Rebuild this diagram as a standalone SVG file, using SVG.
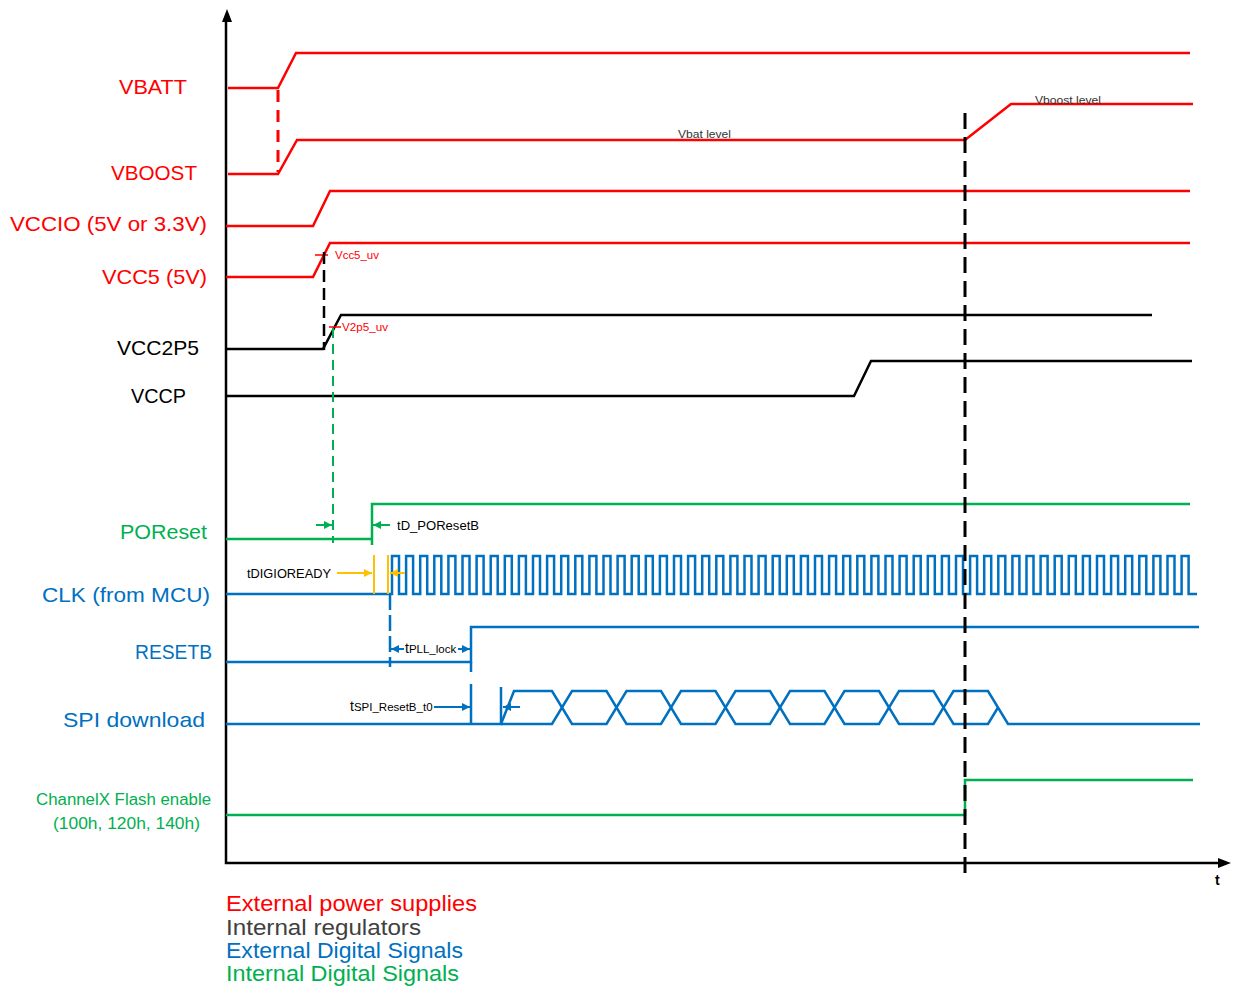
<svg xmlns="http://www.w3.org/2000/svg" width="1235" height="986" viewBox="0 0 1235 986">
<style>
.sig{fill:none;stroke-width:2.5;stroke-linejoin:miter}
.red{stroke:#ff0000}.blk{stroke:#000}.blu{stroke:#0070c0}.grn{stroke:#00b050}.yel{stroke:#ffc000}
.lbl{font-family:"Liberation Sans",Arial,sans-serif;font-size:21px}
.sm{font-family:"Liberation Sans",Arial,sans-serif;font-size:11px}
.tr{fill:#ff0000}.tk{fill:#000}.tb{fill:#0070c0}.tg{fill:#00b050}
</style>
<defs>
<marker id="aG" viewBox="0 0 10 10" refX="10" refY="5" markerWidth="9" markerHeight="8" markerUnits="userSpaceOnUse" orient="auto-start-reverse"><path d="M0,0L10,5L0,10z" fill="#00b050"/></marker>
<marker id="aY" viewBox="0 0 10 10" refX="10" refY="5" markerWidth="9" markerHeight="8" markerUnits="userSpaceOnUse" orient="auto-start-reverse"><path d="M0,0L10,5L0,10z" fill="#ffc000"/></marker>
<marker id="aB" viewBox="0 0 10 10" refX="10" refY="5" markerWidth="9" markerHeight="8" markerUnits="userSpaceOnUse" orient="auto-start-reverse"><path d="M0,0L10,5L0,10z" fill="#0070c0"/></marker>
</defs>
<rect width="1235" height="986" fill="#fff"/>

<g id="axes">
<path d="M226,20V863H1222" fill="none" stroke="#000" stroke-width="2.5"/>
<polygon points="227,9 222,22 232,22" fill="#000"/>
<polygon points="1231,863 1218,858 1218,868" fill="#000"/>
<text x="1215" y="885" font-family="Liberation Sans,Arial,sans-serif" font-size="14" font-weight="bold">t</text>
</g>

<g id="labels" class="lbl">
<text x="119" y="94" class="tr" textLength="68" lengthAdjust="spacingAndGlyphs">VBATT</text>
<text x="111" y="180" class="tr" textLength="86" lengthAdjust="spacingAndGlyphs">VBOOST</text>
<text x="10" y="231" class="tr" textLength="197" lengthAdjust="spacingAndGlyphs">VCCIO (5V or 3.3V)</text>
<text x="102" y="284" class="tr" textLength="105" lengthAdjust="spacingAndGlyphs">VCC5 (5V)</text>
<text x="117" y="355" class="tk" textLength="82" lengthAdjust="spacingAndGlyphs">VCC2P5</text>
<text x="131" y="403" class="tk" textLength="55" lengthAdjust="spacingAndGlyphs">VCCP</text>
<text x="120" y="539" class="tg" textLength="87" lengthAdjust="spacingAndGlyphs">POReset</text>
<text x="42" y="602" class="tb" textLength="168" lengthAdjust="spacingAndGlyphs">CLK (from MCU)</text>
<text x="135" y="659" class="tb" textLength="77" lengthAdjust="spacingAndGlyphs">RESETB</text>
<text x="63" y="727" class="tb" textLength="142" lengthAdjust="spacingAndGlyphs">SPI download</text>
<text x="36" y="805" class="tg" font-size="16" textLength="175" lengthAdjust="spacingAndGlyphs">ChannelX Flash enable</text>
<text x="53" y="829" class="tg" font-size="16" textLength="147" lengthAdjust="spacingAndGlyphs">(100h, 120h, 140h)</text>
</g>

<g id="vbatt"><path class="sig red" d="M228,88H278L296,53H1190"/></g>
<g id="vboost">
<path class="sig red" d="M228,174H278L297,140H965L1011,104H1193"/>
<text x="678" y="138" class="sm" fill="#333" textLength="53" lengthAdjust="spacingAndGlyphs">Vbat level</text>
<text x="1035" y="104" class="sm" fill="#333" textLength="66" lengthAdjust="spacingAndGlyphs">Vboost level</text>
</g>
<g id="vccio"><path class="sig red" d="M226,226H313L330,191H1190"/></g>
<g id="vcc5">
<path class="sig red" d="M226,277H313L330,243H1190"/>
<path d="M315,255H328" stroke="#ff0000" stroke-width="1.5"/>
<text x="335" y="259" class="sm tr" textLength="44" lengthAdjust="spacingAndGlyphs">Vcc5_uv</text>
</g>
<g id="vcc2p5">
<path class="sig blk" d="M226,349H323L341,315H1152"/>
<path d="M329,327H341" stroke="#ff0000" stroke-width="1.5"/>
<text x="342" y="331" class="sm tr" textLength="46" lengthAdjust="spacingAndGlyphs">V2p5_uv</text>
</g>
<g id="vccp"><path class="sig blk" d="M226,396H854L871,361H1192"/></g>
<g id="poreset"><path class="sig grn" d="M226,539H372V504H1190M372,539V545"/></g>
<g id="clk">
<path class="sig blu" d="M226,594H392v-38h7v38h7.1v-38h7v38h7.1v-38h7v38h7.1v-38h7v38h7.1v-38h7v38h7.1v-38h7v38h7.1v-38h7v38h7.1v-38h7v38h7.1v-38h7v38h7.1v-38h7v38h7.1v-38h7v38h7.1v-38h7v38h7.1v-38h7v38h7.1v-38h7v38h7.1v-38h7v38h7.1v-38h7v38h7.1v-38h7v38h7.1v-38h7v38h7.1v-38h7v38h7.1v-38h7v38h7.1v-38h7v38h7.1v-38h7v38h7.1v-38h7v38h7.1v-38h7v38h7.1v-38h7v38h7.1v-38h7v38h7.1v-38h7v38h7.1v-38h7v38h7.1v-38h7v38h7.1v-38h7v38h7.1v-38h7v38h7.1v-38h7v38h7.1v-38h7v38h7.1v-38h7v38h7.1v-38h7v38h7.1v-38h7v38h7.1v-38h7v38h7.1v-38h7v38h7.1v-38h7v38h7.1v-38h7v38h7.1v-38h7v38h7.1v-38h7v38h7.1v-38h7v38h7.1v-38h7v38h7.1v-38h7v38h7.1v-38h7v38h7.1v-38h7v38h7.1v-38h7v38h7.1v-38h7v38h7.1v-38h7v38h7.1v-38h7v38h7.1v-38h7v38h7.1v-38h7v38h7.1v-38h7v38h7.1v-38h7v38h7.1v-38h7v38h7.1v-38h7v38H1197"/>
</g>
<g id="resetb"><path class="sig blu" d="M226,662H471V627H1199"/></g>
<g id="spi">
<path class="sig blu" d="M226,724H501V687"/>
<path class="sig blu" d="M501,724L514,691H552L572,724H606.5L626.5,691H661L681,724H715.5L735.5,691H770L790,724H824.5L844.5,691H879L899,724H933.5L953.5,691H988L1008,724H1200"/>
<path class="sig blu" d="M501,724H552L572,691H606.5L626.5,724H661L681,691H715.5L735.5,724H770L790,691H824.5L844.5,724H879L899,691H933.5L953.5,724H988L998,707.5"/>
</g>
<g id="flash"><path class="sig grn" d="M226,815H965V780H1193"/></g>

<g id="connectors">
<path d="M278,90V172" stroke="#ff0000" stroke-width="3" stroke-dasharray="12 8"/>
<path d="M324,252V350" stroke="#000" stroke-width="2.5" stroke-dasharray="12 6"/>
<path d="M333,328V543" stroke="#00b050" stroke-width="2" stroke-dasharray="10 6"/>
<path d="M965,113V880" stroke="#000" stroke-width="3" stroke-dasharray="16 8"/>
<path d="M390,594V667" stroke="#0070c0" stroke-width="2.5" stroke-dasharray="16 5"/>
<path d="M471,662V672M471,684V724" stroke="#0070c0" stroke-width="2.5"/>
<path d="M374,555V594M388,555V594" stroke="#ffc000" stroke-width="2"/>
<path d="M316,525H332" stroke="#00b050" stroke-width="2" marker-end="url(#aG)"/>
<path d="M390,525H373" stroke="#00b050" stroke-width="2" marker-end="url(#aG)"/>
<path d="M337,573H372" stroke="#ffc000" stroke-width="2" marker-end="url(#aY)"/>
<path d="M405,573H390" stroke="#ffc000" stroke-width="2" marker-end="url(#aY)"/>
<path d="M404,649H391" stroke="#0070c0" stroke-width="2" marker-end="url(#aB)"/>
<path d="M458,649H470" stroke="#0070c0" stroke-width="2" marker-end="url(#aB)"/>
<path d="M434,707H470" stroke="#0070c0" stroke-width="2" marker-end="url(#aB)"/>
<path d="M520,707H503" stroke="#0070c0" stroke-width="2" marker-end="url(#aB)"/>
</g>

<g id="timing-labels" font-family="Liberation Sans,Arial,sans-serif" fill="#000">
<text x="397" y="530" font-size="13" textLength="82" lengthAdjust="spacingAndGlyphs">tD_POResetB</text>
<text x="247" y="578" font-size="13" textLength="84" lengthAdjust="spacingAndGlyphs">tDIGIOREADY</text>
<text x="405" y="653" font-size="14">t<tspan font-size="11.5">PLL_lock</tspan></text>
<text x="350" y="711" font-size="14">t<tspan font-size="11.5">SPI_ResetB_t0</tspan></text>
</g>

<g id="legend" font-family="Liberation Sans,Arial,sans-serif" font-size="22">
<text x="226" y="911" fill="#ff0000" textLength="251" lengthAdjust="spacingAndGlyphs">External power supplies</text>
<text x="226" y="935" fill="#404040" textLength="195" lengthAdjust="spacingAndGlyphs">Internal regulators</text>
<text x="226" y="958" fill="#0070c0" textLength="237" lengthAdjust="spacingAndGlyphs">External Digital Signals</text>
<text x="226" y="981" fill="#00b050" textLength="233" lengthAdjust="spacingAndGlyphs">Internal Digital Signals</text>
</g>
</svg>
